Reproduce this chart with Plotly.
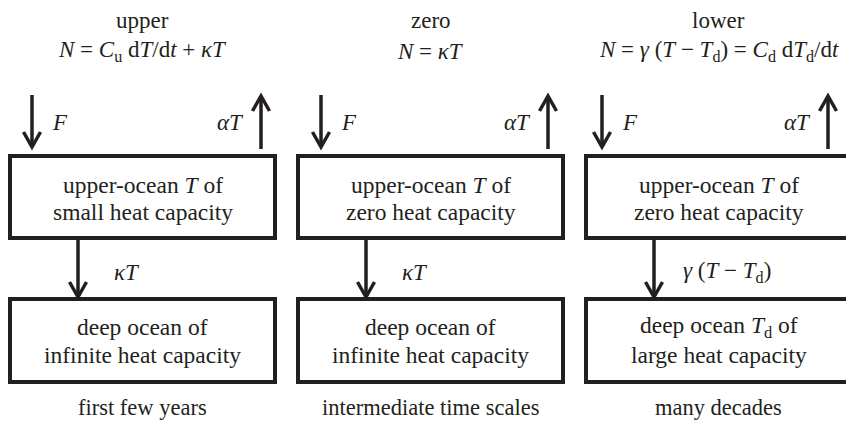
import plotly.graph_objects as go

# ---- content ----
panel_titles = ["upper", "zero", "lower"]
panel_formulas = [
    "<i>N</i> = <i>C</i><sub>u</sub> d<i>T</i>/d<i>t</i> + <i>κT</i>",
    "<i>N</i> = <i>κT</i>",
    "<i>N</i> = <i>γ</i> (<i>T</i> − <i>T</i><sub>d</sub>) = <i>C</i><sub>d</sub> d<i>T</i><sub>d</sub>/d<i>t</i>",
]
upper_box_lines = [
    ["upper-ocean <i>T</i> of", "small heat capacity"],
    ["upper-ocean <i>T</i> of", "zero heat capacity"],
    ["upper-ocean <i>T</i> of", "zero heat capacity"],
]
deep_box_lines = [
    ["deep ocean of", "infinite heat capacity"],
    ["deep ocean of", "infinite heat capacity"],
    ["deep ocean <i>T</i><sub>d</sub> of", "large heat capacity"],
]
exchange_labels = ["<i>κT</i>", "<i>κT</i>", "<i>γ</i> (<i>T</i> − <i>T</i><sub>d</sub>)"]
forcing_label = "<i>F</i>"
feedback_label = "<i>αT</i>"
time_labels = ["first few years", "intermediate time scales", "many decades"]

# ---- layout geometry (pixels, y downward) ----
W, H = 846, 427
box_left = [10, 298, 586]
box_w = 265
up_y = (156, 238)
deep_y = (299, 382)
f_arrow_x = [32, 321, 602]
a_arrow_x = [261, 548, 828]
k_arrow_x = [78, 366, 654]
k_label_x = [112, 400, 681]
INK = "#231f20"
FONT = "Liberation Serif, Times New Roman, serif"
FS_TITLE = 23
FS_BOX = 23.5
FS_LABEL = 23
FS_BOTTOM = 22.5

fig = go.Figure()
shapes = []
annotations = []


def rect(x0, x1, y0, y1):
    shapes.append(dict(type="rect", xref="x", yref="y", x0=x0, x1=x1, y0=y0, y1=y1,
                       line=dict(color=INK, width=4), fillcolor="rgba(0,0,0,0)"))


def arrow(x, y_from, y_to):
    shapes.append(dict(type="line", xref="x", yref="y", x0=x, x1=x, y0=y_from, y1=y_to,
                       line=dict(color=INK, width=3.5)))
    d = 1 if y_to > y_from else -1
    hl, hw = 15, 8.5
    path = f"M {x-hw},{y_to - d*hl} L {x},{y_to} L {x+hw},{y_to - d*hl}"
    shapes.append(dict(type="path", xref="x", yref="y", path=path,
                       line=dict(color=INK, width=3.5)))


def text(x, y, s, size, xanchor="center"):
    annotations.append(dict(x=x, y=y, xref="x", yref="y", text=s, showarrow=False,
                            xanchor=xanchor, yanchor="middle",
                            font=dict(family=FONT, size=size, color=INK)))


for i in range(3):
    x0 = box_left[i]
    x1 = x0 + box_w
    cx = (x0 + x1) / 2
    rect(x0, x1, *up_y)
    rect(x0, x1, *deep_y)
    arrow(f_arrow_x[i], 95, 147)
    arrow(a_arrow_x[i], 149, 96)
    arrow(k_arrow_x[i], up_y[1], 297)

    text(cx, 20, panel_titles[i], FS_TITLE)
    text(cx, 51, panel_formulas[i], FS_TITLE)
    text(f_arrow_x[i] + 18, 122, forcing_label, FS_LABEL, xanchor="left")
    text(a_arrow_x[i] - 15, 122, feedback_label, FS_LABEL, xanchor="right")
    text(cx, 185, upper_box_lines[i][0], FS_BOX)
    text(cx, 212, upper_box_lines[i][1], FS_BOX)
    text(k_label_x[i], 272, exchange_labels[i], FS_LABEL, xanchor="left")
    text(cx, 327, deep_box_lines[i][0], FS_BOX)
    text(cx, 355, deep_box_lines[i][1], FS_BOX)
    text(cx, 407, time_labels[i], FS_BOTTOM)

fig.update_layout(
    width=W, height=H,
    margin=dict(l=0, r=0, t=0, b=0),
    paper_bgcolor="white", plot_bgcolor="white",
    font=dict(family=FONT, size=FS_BOX, color=INK),
    xaxis=dict(range=[0, W], visible=False, fixedrange=True),
    yaxis=dict(range=[H, 0], visible=False, fixedrange=True),
    shapes=shapes, annotations=annotations,
    showlegend=False,
)
fig.write_html("out.html", config={"displayModeBar": False},
               post_script="document.body.style.margin='0';document.body.style.padding='0';")
